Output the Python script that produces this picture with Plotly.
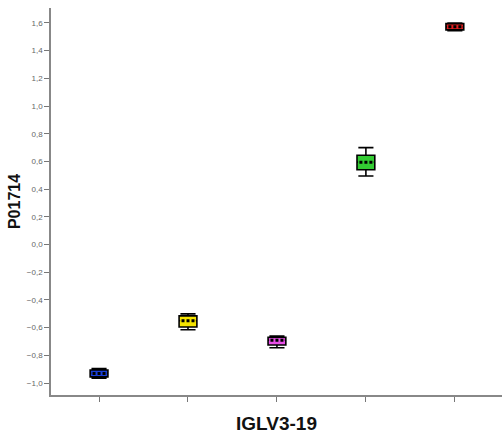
import plotly.graph_objects as go

categories = ["G1", "G2", "G3", "G4", "G5"]
lower = [-0.965, -0.615, -0.745, 0.495, 1.545]
q1 = [-0.955, -0.595, -0.725, 0.540, 1.550]
median = [-0.93, -0.55, -0.69, 0.595, 1.572]
q3 = [-0.905, -0.515, -0.670, 0.645, 1.595]
upper = [-0.895, -0.500, -0.660, 0.700, 1.600]
colors = ["#1a3fd6", "#f5e400", "#e850e8", "#33cc33", "#e02020"]
y_ticks = [-1.0, -0.8, -0.6, -0.4, -0.2, 0.0, 0.2, 0.4, 0.6, 0.8, 1.0, 1.2, 1.4, 1.6]

box_w = 0.2
dot_half = 0.073
fig = go.Figure()
for i, c in enumerate(categories):
    fig.add_trace(go.Box(
        x=[i], q1=[q1[i]], median=[median[i]], q3=[q3[i]],
        lowerfence=[lower[i]], upperfence=[upper[i]],
        width=box_w, whiskerwidth=0.85,
        fillcolor=colors[i], line=dict(color="black", width=1.6),
        boxpoints=False, showlegend=False, hoverinfo="skip",
    ))
    # hide the solid median line with fill colour
    fig.add_trace(go.Scatter(
        x=[i - box_w / 2 + 0.012, i + box_w / 2 - 0.012], y=[median[i], median[i]],
        mode="lines", line=dict(color=colors[i], width=3.5),
        showlegend=False, hoverinfo="skip",
    ))
    # dotted median
    fig.add_trace(go.Scatter(
        x=[i - dot_half, i + dot_half], y=[median[i], median[i]],
        mode="lines", line=dict(color="black", width=3, dash="3px,2px"),
        showlegend=False, hoverinfo="skip",
    ))

fig.update_layout(
    width=502, height=437,
    margin=dict(l=51, r=0, t=8, b=42),
    paper_bgcolor="white", plot_bgcolor="white",
    separators=", ",
    font=dict(family="Liberation Sans, Arial, sans-serif"),
    showlegend=False,
)
fig.update_xaxes(
    range=[-0.54, 4.53], tickvals=list(range(len(categories))), ticktext=[""] * len(categories),
    ticks="outside", ticklen=5, tickcolor="#777", showline=True, linecolor="#888", linewidth=1.5,
    showgrid=False, zeroline=False,
    title=dict(text="<b>IGLV3-19</b>", font=dict(size=19, color="#111"), standoff=14),
)
fig.update_yaxes(
    range=[-1.086, 1.708], tickvals=y_ticks, tickformat=".1f",
    ticks="outside", ticklen=5, tickcolor="#777", showline=True, linecolor="#888", linewidth=1.5,
    tickfont=dict(size=8, color="#666"),
    showgrid=False, zeroline=False,
    title=dict(text="<b>P01714</b>", font=dict(size=16, color="#111"), standoff=2),
)
fig.write_html("out.html", config={"displayModeBar": False},
               post_script="document.body.style.margin='0';document.body.style.padding='0';")
